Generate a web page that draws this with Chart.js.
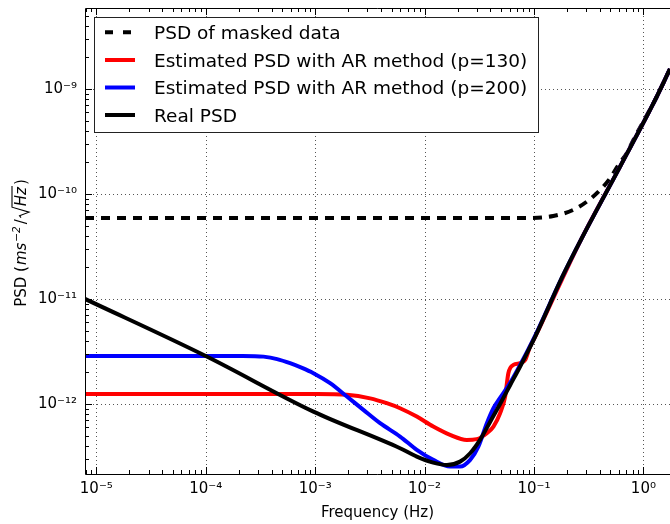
<!DOCTYPE html>
<html><head><meta charset="utf-8">
<script src="https://cdn.jsdelivr.net/npm/chart.js@4.4.1/dist/chart.umd.min.js"></script>
<style>html,body{margin:0;padding:0;background:#fff;}#wrap{width:670px;height:524px;}</style>
</head><body><div id="wrap"><canvas id="c" width="670" height="524"></canvas></div>
<script>
// ---------- data ----------
const xTickExponents = [-5, -4, -3, -2, -1, 0];
const yTickExponents = [-12, -11, -10, -9];
const xRange = [7.88e-6, 1.75];
const yRange = [2.15e-13, 5.9e-9];

const seriesLabels = [
  'PSD of masked data',
  'Estimated PSD with AR method (p=130)',
  'Estimated PSD with AR method (p=200)',
  'Real PSD'
];

const freqMasked = [7.88e-6, 8.3e-2, 0.150, 0.229, 0.304, 0.402, 0.496, 0.591, 0.705, 0.811, 1.28, 1.75];
const psdMasked  = [5.9e-11, 5.9e-11, 6.17e-11, 7.05e-11, 8.45e-11, 1.09e-10, 1.41e-10, 1.89e-10, 2.44e-10, 3.27e-10, 7.85e-10, 1.55e-9];

const freqAR130 = [7.88e-6, 1.01e-3, 1.95e-3, 3.18e-3, 4.51e-3, 5.97e-3, 8.49e-3, 1.20e-2, 1.71e-2, 2.43e-2, 3.0e-2, 3.71e-2, 4.26e-2, 4.90e-2, 5.45e-2, 5.83e-2, 6.49e-2, 7.47e-2, 8.30e-2, 9.2e-2, 0.1023, 0.1795, 0.2735, 0.612, 1.28, 1.75];
const psdAR130  = [1.245e-12, 1.24e-12, 1.22e-12, 1.13e-12, 1.016e-12, 9.1e-13, 7.57e-13, 6.08e-13, 5.07e-13, 4.54e-13, 4.62e-13, 5.26e-13, 6.08e-13, 8.15e-13, 1.175e-12, 1.96e-12, 2.35e-12, 2.44e-12, 2.62e-12, 3.51e-12, 4.35e-12, 1.52e-11, 3.79e-11, 1.82e-10, 7.85e-10, 1.55e-9];

const freqAR200 = [7.88e-6, 1e-4, 2.06e-4, 2.82e-4, 3.37e-4, 4.49e-4, 5.90e-4, 7.59e-4, 9.64e-4, 1.37e-3, 1.95e-3, 2.76e-3, 3.92e-3, 5.97e-3, 8.49e-3, 1.20e-2, 1.71e-2, 2.11e-2, 2.61e-2, 3.10e-2, 3.71e-2, 4.26e-2, 4.90e-2, 6.05e-2, 7.47e-2, 0.1023, 0.1795, 0.2735, 0.612, 1.28, 1.75];
const psdAR200  = [2.86e-12, 2.86e-12, 2.855e-12, 2.85e-12, 2.82e-12, 2.67e-12, 2.44e-12, 2.20e-12, 1.96e-12, 1.575e-12, 1.175e-12, 8.77e-13, 6.55e-13, 4.89e-13, 3.65e-13, 2.93e-13, 2.53e-13, 2.53e-13, 2.93e-13, 3.92e-13, 6.55e-13, 9.1e-13, 1.14e-12, 1.585e-12, 2.35e-12, 4.45e-12, 1.585e-11, 3.79e-11, 1.82e-10, 7.85e-10, 1.55e-9];

const freqReal = [7.88e-6, 1e-4, 9.64e-4, 5.97e-3, 8.49e-3, 1.20e-2, 1.60e-2, 2.11e-2, 2.61e-2, 3.21e-2, 3.97e-2, 4.90e-2, 6.05e-2, 7.47e-2, 0.1023, 0.1795, 0.2735, 0.612, 1.28, 1.75];
const psdReal  = [1e-11, 2.86e-12, 8.45e-13, 3.78e-13, 3.15e-13, 2.76e-13, 2.62e-13, 2.82e-13, 3.39e-13, 4.54e-13, 6.74e-13, 1.0e-12, 1.507e-12, 2.27e-12, 4.35e-12, 1.585e-11, 3.79e-11, 1.82e-10, 7.85e-10, 1.55e-9];

// ---------- helpers ----------
const FAMILY = '"DejaVu Sans", "Bitstream Vera Sans", sans-serif';
const SUP = {'-':'\u207B','0':'\u2070','1':'\u00B9','2':'\u00B2','3':'\u00B3','4':'\u2074','5':'\u2075','6':'\u2076','7':'\u2077','8':'\u2078','9':'\u2079'};
function powLabel(v){
  const e = Math.round(Math.log10(v));
  return '10' + String(e).split('').map(c => SUP[c]).join('');
}
function zip(xs, ys){ return xs.map((x, i) => ({x: x, y: ys[i]})); }

const styles = [
  {color:'#000000', dash:[9,7], order:3},
  {color:'#ff0000', dash:[], order:2},
  {color:'#0000ff', dash:[], order:1},
  {color:'#000000', dash:[], order:0}
];
const seriesData = [zip(freqMasked, psdMasked), zip(freqAR130, psdAR130), zip(freqAR200, psdAR200), zip(freqReal, psdReal)];

const datasets = seriesLabels.map((lab, i) => ({
  label: lab,
  data: seriesData[i],
  showLine: true,
  borderColor: styles[i].color,
  backgroundColor: styles[i].color,
  borderWidth: 4,
  borderDash: styles[i].dash,
  borderJoinStyle: 'round',
  pointRadius: 0,
  pointHoverRadius: 0,
  cubicInterpolationMode: 'monotone',
  order: styles[i].order,
  fill: false
}));

// ---------- plugins ----------
const gridAndFrame = {
  id: 'gridAndFrame',
  beforeDatasetsDraw(chart){
    const {ctx, chartArea:a, scales:{x, y}} = chart;
    ctx.save();
    ctx.strokeStyle = '#555'; ctx.lineWidth = 1; ctx.setLineDash([1,3]);
    xTickExponents.forEach(e => {
      const px = Math.round(x.getPixelForValue(Math.pow(10, e))) + 0.5;
      ctx.beginPath(); ctx.moveTo(px, a.top); ctx.lineTo(px, a.bottom); ctx.stroke();
    });
    yTickExponents.forEach(e => {
      const py = Math.round(y.getPixelForValue(Math.pow(10, e))) + 0.5;
      ctx.beginPath(); ctx.moveTo(a.left, py); ctx.lineTo(a.right, py); ctx.stroke();
    });
    ctx.restore();
  },
  afterDatasetsDraw(chart){
    const {ctx, chartArea:a, scales:{x, y}} = chart;
    ctx.save();
    ctx.strokeStyle = '#000'; ctx.lineWidth = 1; ctx.setLineDash([]);
    for (let d = -6; d <= 0; d++) for (let k = 1; k <= 9; k++) {
      const v = k * Math.pow(10, d);
      if (v < xRange[0] || v > xRange[1]) continue;
      const px = Math.round(x.getPixelForValue(v)) + 0.5;
      const len = k === 1 ? 7 : 4;
      ctx.beginPath(); ctx.moveTo(px, a.bottom); ctx.lineTo(px, a.bottom - len);
      ctx.moveTo(px, a.top); ctx.lineTo(px, a.top + len); ctx.stroke();
    }
    for (let d = -13; d <= -9; d++) for (let k = 1; k <= 9; k++) {
      const v = k * Math.pow(10, d);
      if (v < yRange[0] || v > yRange[1]) continue;
      const py = Math.round(y.getPixelForValue(v)) + 0.5;
      const len = k === 1 ? 7 : 4;
      ctx.beginPath(); ctx.moveTo(a.left, py); ctx.lineTo(a.left + len, py); ctx.stroke();
    }
    ctx.beginPath();
    ctx.moveTo(a.right, a.top + 0.5); ctx.lineTo(a.left + 0.5, a.top + 0.5);
    ctx.lineTo(a.left + 0.5, a.bottom + 0.5); ctx.lineTo(a.right, a.bottom + 0.5);
    ctx.stroke();
    ctx.restore();
  }
};

const legendBox = {
  id: 'legendBox',
  afterDraw(chart){
    const ctx = chart.ctx;
    const bx = 94.5, by = 17.5, bw = 444, bh = 115;
    ctx.save();
    ctx.fillStyle = '#fff'; ctx.fillRect(bx, by, bw, bh);
    ctx.strokeStyle = '#222'; ctx.lineWidth = 1; ctx.setLineDash([]);
    ctx.strokeRect(bx, by, bw, bh);
    const rows = [32.3, 60, 87.5, 115];
    chart.data.datasets.forEach((ds, i) => {
      const ry = rows[i];
      ctx.strokeStyle = ds.borderColor; ctx.lineWidth = 4; ctx.lineCap = 'butt';
      ctx.setLineDash(ds.borderDash && ds.borderDash.length ? [8,10] : []);
      ctx.beginPath(); ctx.moveTo(105, ry); ctx.lineTo(135, ry); ctx.stroke();
      ctx.setLineDash([]);
      ctx.fillStyle = '#000'; ctx.font = '18.5px ' + FAMILY;
      ctx.textBaseline = 'alphabetic'; ctx.textAlign = 'left';
      ctx.fillText(ds.label, 154, ry + 6.8);
    });
    ctx.restore();
  }
};

const yTitle = {
  id: 'yTitle',
  afterDraw(chart){
    const ctx = chart.ctx, a = chart.chartArea;
    const cy = (a.top + a.bottom) / 2 + 2;
    const fR = '15px ' + FAMILY, fI = 'italic 15px ' + FAMILY, fS = 'italic 10.5px ' + FAMILY;
    const mw = (t, f) => { ctx.font = f; return ctx.measureText(t).width; };
    ctx.save();
    ctx.translate(26, cy); ctx.rotate(-Math.PI / 2);
    ctx.fillStyle = '#000'; ctx.strokeStyle = '#000';
    ctx.textBaseline = 'alphabetic'; ctx.textAlign = 'left';
    const pieces = [['PSD (', fR, 0, 1], ['ms', fI, 0, 1], ['\u22122', fS, -6.5, 2], ['/', fR, 0, 1]];
    const radW = 12;
    const wHz = mw('Hz', fI), wPar = mw(')', fR);
    let total = pieces.reduce((s, p) => s + mw(p[0], p[1]) + p[3], 0) + radW + wHz + 2 + wPar;
    let xx = -total / 2;
    pieces.forEach(p => { ctx.font = p[1]; ctx.fillText(p[0], xx, p[2]); xx += mw(p[0], p[1]) + p[3]; });
    ctx.lineWidth = 1.1;
    ctx.beginPath();
    ctx.moveTo(xx + 0.5, -5); ctx.lineTo(xx + 2.5, -6.5); ctx.lineTo(xx + 6, 3);
    ctx.lineTo(xx + radW - 1, -14); ctx.lineTo(xx + radW + wHz + 1, -14);
    ctx.stroke();
    xx += radW;
    ctx.font = fI; ctx.fillText('Hz', xx, 0); xx += wHz + 2;
    ctx.font = fR; ctx.fillText(')', xx, 0);
    ctx.restore();
  }
};

// ---------- chart ----------
new Chart(document.getElementById('c'), {
  type: 'scatter',
  data: { datasets: datasets },
  options: {
    responsive: false,
    animation: false,
    devicePixelRatio: 1,
    layout: { padding: { top: 8, left: 0, right: 0, bottom: 0 } },
    plugins: { legend: { display: false }, tooltip: { enabled: false } },
    scales: {
      x: {
        type: 'logarithmic', min: xRange[0], max: xRange[1],
        afterBuildTicks: s => { s.ticks = xTickExponents.map(e => ({ value: Math.pow(10, e) })); },
        afterFit: s => { s.height = 50; s.paddingLeft = 0; s.paddingRight = 0; },
        grid: { display: false, drawTicks: false },
        border: { display: false },
        ticks: { callback: v => powLabel(v), font: { family: FAMILY, size: 15 }, color: '#000', padding: 6, maxRotation: 0, autoSkip: false },
        title: { display: true, text: 'Frequency (Hz)', font: { family: FAMILY, size: 15 }, color: '#000', padding: { top: 0, bottom: 2 } }
      },
      y: {
        type: 'logarithmic', min: yRange[0], max: yRange[1],
        afterBuildTicks: s => { s.ticks = yTickExponents.map(e => ({ value: Math.pow(10, e) })); },
        afterFit: s => { s.width = 85; s.paddingTop = 0; s.paddingBottom = 0; },
        grid: { display: false, drawTicks: false },
        border: { display: false },
        ticks: { callback: v => powLabel(v), font: { family: FAMILY, size: 15 }, color: '#000', padding: 8, autoSkip: false }
      }
    }
  },
  plugins: [gridAndFrame, legendBox, yTitle]
});
</script>
</body></html>
